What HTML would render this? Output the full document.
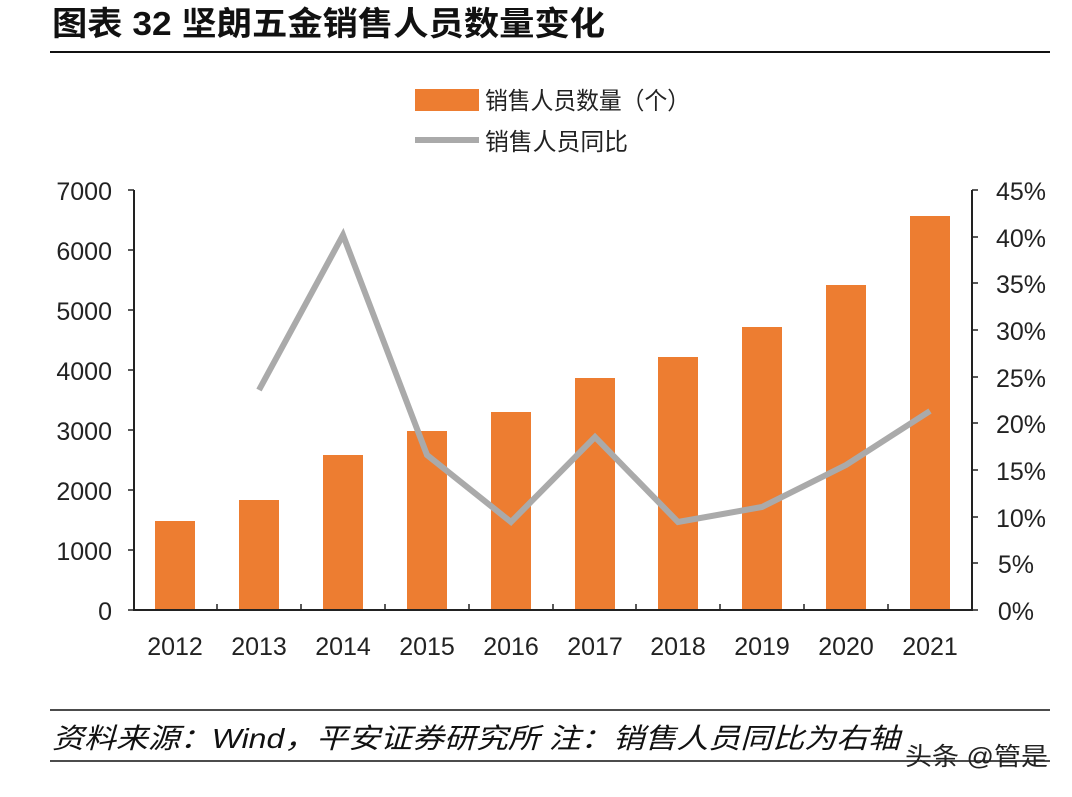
<!DOCTYPE html><html><head><meta charset="utf-8"><style>
body{margin:0;background:#fff;width:1072px;height:792px;overflow:hidden}
text{font-family:"Liberation Sans","Noto Sans CJK SC",sans-serif}
</style></head><body>
<svg width="1072" height="792" xmlns="http://www.w3.org/2000/svg">
<text x="52" y="35" font-size="33" font-weight="bold" fill="#111" textLength="553" lengthAdjust="spacingAndGlyphs">图表 32 坚朗五金销售人员数量变化</text>
<line x1="50" y1="52" x2="1050" y2="52" stroke="#111" stroke-width="2"/>
<rect x="415" y="89" width="64" height="22" fill="#ed7d31"/>
<text x="485" y="109" font-size="24" fill="#222" textLength="205" lengthAdjust="spacingAndGlyphs">销售人员数量（个）</text>
<line x1="415" y1="140" x2="479" y2="140" stroke="#aaa" stroke-width="6"/>
<text x="485" y="150" font-size="24" fill="#222" textLength="143" lengthAdjust="spacingAndGlyphs">销售人员同比</text>
<g fill="#ed7d31">
<rect x="155" y="521" width="40" height="89"/>
<rect x="239" y="500" width="40" height="110"/>
<rect x="323" y="455" width="40" height="155"/>
<rect x="407" y="431" width="40" height="179"/>
<rect x="491" y="412" width="40" height="198"/>
<rect x="575" y="378" width="40" height="232"/>
<rect x="658" y="357" width="40" height="253"/>
<rect x="742" y="327" width="40" height="283"/>
<rect x="826" y="285" width="40" height="325"/>
<rect x="910" y="216" width="40" height="394"/>
</g>
<polyline points="259,390 343,235 427,455 511,522 595,437 678,522 762,507 846,465 930,411" fill="none" stroke="#aaa" stroke-width="6" stroke-linejoin="miter"/>
<g stroke="#222" stroke-width="2" fill="none">
<line x1="134" y1="190" x2="134" y2="611"/>
<line x1="134" y1="610" x2="972" y2="610"/>
<line x1="972" y1="190" x2="972" y2="611"/>
</g>
<g stroke="#222" stroke-width="1.5">
<line x1="128" y1="190" x2="134" y2="190"/><line x1="128" y1="250" x2="134" y2="250"/><line x1="128" y1="310" x2="134" y2="310"/><line x1="128" y1="370" x2="134" y2="370"/><line x1="128" y1="430" x2="134" y2="430"/><line x1="128" y1="490" x2="134" y2="490"/><line x1="128" y1="550" x2="134" y2="550"/><line x1="128" y1="610" x2="134" y2="610"/>
<line x1="972" y1="190" x2="978" y2="190"/><line x1="972" y1="237" x2="978" y2="237"/><line x1="972" y1="283" x2="978" y2="283"/><line x1="972" y1="330" x2="978" y2="330"/><line x1="972" y1="377" x2="978" y2="377"/><line x1="972" y1="423" x2="978" y2="423"/><line x1="972" y1="470" x2="978" y2="470"/><line x1="972" y1="517" x2="978" y2="517"/><line x1="972" y1="563" x2="978" y2="563"/><line x1="972" y1="610" x2="978" y2="610"/>
<line x1="217" y1="604" x2="217" y2="610"/><line x1="301" y1="604" x2="301" y2="610"/><line x1="385" y1="604" x2="385" y2="610"/><line x1="469" y1="604" x2="469" y2="610"/><line x1="553" y1="604" x2="553" y2="610"/><line x1="636" y1="604" x2="636" y2="610"/><line x1="720" y1="604" x2="720" y2="610"/><line x1="804" y1="604" x2="804" y2="610"/><line x1="888" y1="604" x2="888" y2="610"/>
</g>
<g font-size="25" fill="#222" text-anchor="end">
<text x="112" y="200">7000</text><text x="112" y="260">6000</text><text x="112" y="320">5000</text><text x="112" y="380">4000</text><text x="112" y="440">3000</text><text x="112" y="500">2000</text><text x="112" y="560">1000</text><text x="112" y="620">0</text>
</g>
<g font-size="25" fill="#222" text-anchor="end">
<text x="1046" y="200">45%</text><text x="1046" y="247">40%</text><text x="1046" y="293">35%</text><text x="1046" y="340">30%</text><text x="1046" y="387">25%</text><text x="1046" y="433">20%</text><text x="1046" y="480">15%</text><text x="1046" y="527">10%</text><text x="1034" y="573">5%</text><text x="1034" y="620">0%</text>
</g>
<g font-size="25" fill="#222" text-anchor="middle">
<text x="175" y="655">2012</text><text x="259" y="655">2013</text><text x="343" y="655">2014</text><text x="427" y="655">2015</text><text x="511" y="655">2016</text><text x="595" y="655">2017</text><text x="678" y="655">2018</text><text x="762" y="655">2019</text><text x="846" y="655">2020</text><text x="930" y="655">2021</text>
</g>
<line x1="50" y1="710" x2="1050" y2="710" stroke="#111" stroke-width="1.5"/>
<text x="52" y="748" font-size="28" font-style="italic" fill="#111" textLength="848" lengthAdjust="spacingAndGlyphs">资料来源：Wind，平安证券研究所 注：销售人员同比为右轴</text>
<line x1="50" y1="761" x2="1050" y2="761" stroke="#111" stroke-width="1.5"/>
<text x="905" y="765" font-size="25" fill="#222" textLength="143" lengthAdjust="spacingAndGlyphs">头条 @管是</text>
</svg>
</body></html>
